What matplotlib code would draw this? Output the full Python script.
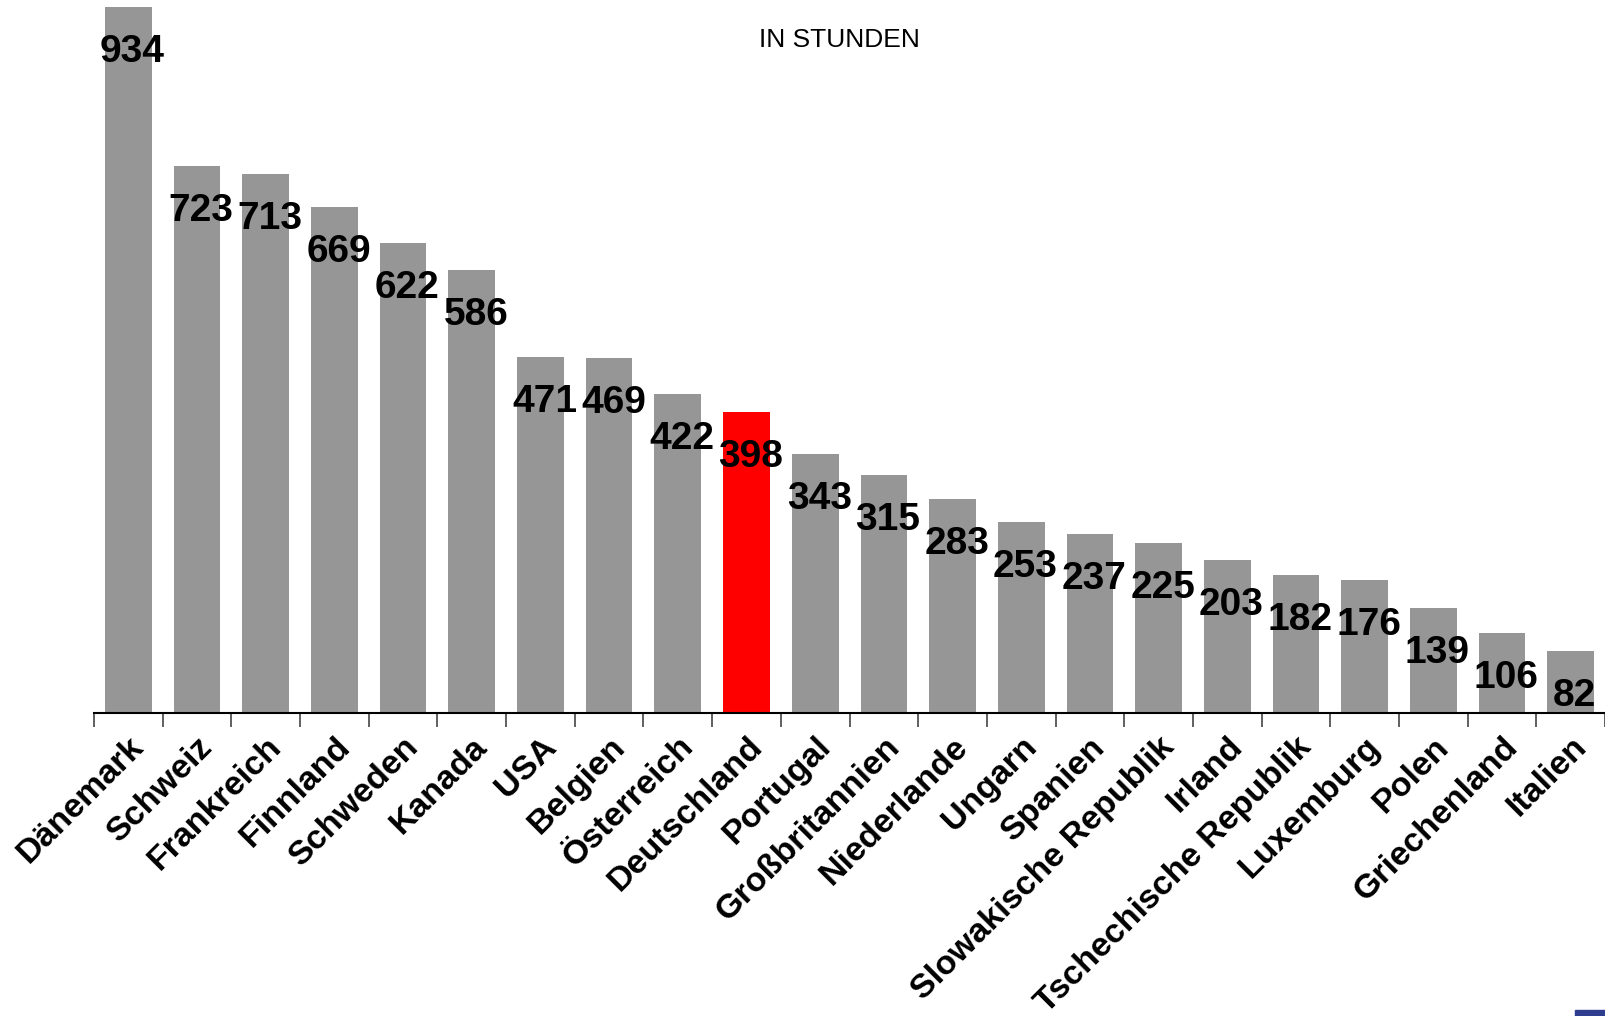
import matplotlib
matplotlib.use('Agg')
import matplotlib.pyplot as plt
from matplotlib.patches import Rectangle

plt.rcParams['font.family'] = ['Liberation Sans', 'DejaVu Sans']

# Stunden pro Land
laender = ['Dänemark', 'Schweiz', 'Frankreich', 'Finnland', 'Schweden', 'Kanada',
           'USA', 'Belgien', 'Österreich', 'Deutschland', 'Portugal',
           'Großbritannien', 'Niederlande', 'Ungarn', 'Spanien',
           'Slowakische Republik', 'Irland', 'Tschechische Republik',
           'Luxemburg', 'Polen', 'Griechenland', 'Italien']
stunden = [934, 723, 713, 669, 622, 586, 471, 469, 422, 398, 343,
           315, 283, 253, 237, 225, 203, 182, 176, 139, 106, 82]
hervorheben = 'Deutschland'

farben = ['#ff0000' if l == hervorheben else '#969696' for l in laender]

fig = plt.figure(figsize=(16.05, 10.16), dpi=100)
ax = fig.add_axes([0.0586, 0.2982, 0.9414, 0.7018])

x = range(len(laender))
ax.bar(x, stunden, width=0.68, color=farben, zorder=2)

for xi, v in zip(x, stunden):
    ax.annotate(str(v), (xi, v), xytext=(3, -39.6), textcoords='offset points',
                ha='center', va='baseline', fontsize=28, fontweight='bold',
                color='black', zorder=3)

ax.set_xlim(-0.5, len(laender) - 0.5)
ax.set_ylim(0, 943)

# Teilstriche zwischen den Kategorien, Beschriftung in der Mitte
ax.set_xticks([i - 0.5 for i in range(len(laender) + 1)], minor=True)
ax.set_xticks(list(x))
ax.set_xticklabels(laender, rotation=45, ha='right', va='top',
                   rotation_mode='anchor', fontsize=24.5, fontweight='bold')
ax.tick_params(axis='x', which='major', length=0, pad=13)
ax.tick_params(axis='x', which='minor', length=10, width=1.2,
               color='#444444', direction='out')

ax.set_yticks([])
for side in ['top', 'right', 'left']:
    ax.spines[side].set_visible(False)
ax.spines['bottom'].set_linewidth(1.5)

fig.text(0.523, 0.961, 'IN STUNDEN', ha='center', va='center', fontsize=19)

fig.add_artist(Rectangle((1575 / 1605, 0), 30 / 1605, 6 / 1016,
                         transform=fig.transFigure, color='#2f3d8f'))

fig.savefig('out.png', dpi=100)
